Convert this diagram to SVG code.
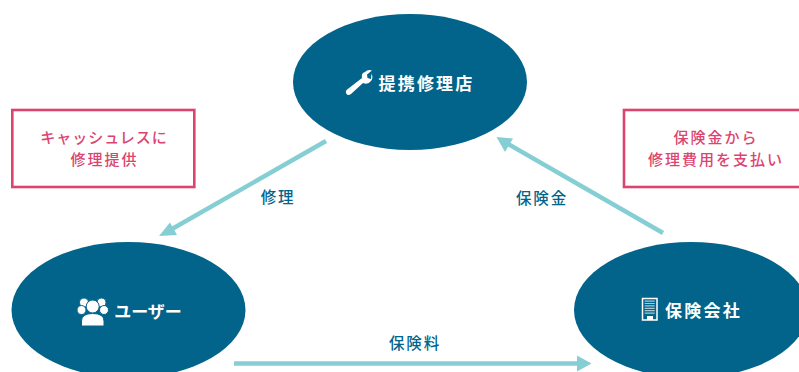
<svg xmlns="http://www.w3.org/2000/svg" width="799" height="372" viewBox="0 0 799 372">
<style>
text{font-family:"Noto Sans CJK JP","Noto Sans",sans-serif;text-anchor:middle;font-weight:500}
.n{fill:#02648a}
.t{fill:#fff;font-size:17px;letter-spacing:2.200px;font-weight:700}
.l{fill:#02648a;font-size:15.500px;letter-spacing:1.800px}
.c{fill:#db4470;font-size:15px;letter-spacing:2px}
.b{fill:#fff;stroke:#db4470;stroke-width:2.600}
.a{stroke:#85cfd4;stroke-width:4.500;fill:none}
.h{fill:#85cfd4}
</style>
<rect width="799" height="372" fill="#fff"/>
<g id="connectors">
<path class="a" d="M326 141L172 229"/><polygon class="h" points="159,236 170,222.500 177,235"/>
<path class="a" d="M663 233L508 144"/><polygon class="h" points="496.500,137 513,138.500 505,152"/>
<path class="a" d="M234 363.500H580"/><polygon class="h" points="591.500,363.500 577,355.500 577,371.500"/>
</g>
<g id="note-left"><rect class="b" x="12.300" y="110" width="182" height="77"/>
<text class="c" x="104" y="143" style="letter-spacing:1px">キャッシュレスに</text><text class="c" x="104.500" y="165">修理提供</text></g>
<g id="note-right"><rect class="b" x="624" y="110" width="190" height="77"/>
<text class="c" x="716" y="143">保険金から</text><text class="c" x="716" y="165">修理費用を支払い</text></g>
<g id="node-shop"><ellipse class="n" cx="410" cy="82" rx="117" ry="68"/>
<path fill="#fff" d="M346.500 90L362 78Q361 73 365 72Q368 69 372 70.500L367 74.500L367.500 78L371 79L371.500 73.500Q373.500 78 371 81Q368 85 363 83L351 94Q348 96 346.500 94Q345 92 346.500 90Z"/>
<text class="t" x="426.500" y="90">提携修理店</text></g>
<g id="node-user"><ellipse class="n" cx="128.500" cy="310" rx="117" ry="68"/>
<g fill="#fff" stroke="#02648a" stroke-width="1"><circle cx="84" cy="302.500" r="4.500"/><circle cx="101.500" cy="302.500" r="4.500"/><circle cx="81.500" cy="310" r="4.500"/><circle cx="104" cy="310" r="4.500"/><circle cx="92.700" cy="306.500" r="6.500"/><path d="M81.500 326V321Q81.500 313.500 92.700 313.500T104 321V326Z"/></g>
<text class="t" x="148" y="318" style="letter-spacing:0">ユーザー</text></g>
<g id="node-insurer"><ellipse class="n" cx="691" cy="310" rx="117" ry="68"/>
<path fill="none" stroke="#fff" stroke-width="1.500" d="M642.500 298.500H657V320H642.500Z"/>
<path fill="none" stroke="#fff" stroke-opacity="0.650" stroke-width="10" stroke-dasharray="1.200 1.200" d="M649.700 300.500V314"/>
<path fill="#fff" d="M647 320V316H653V320Z"/>
<text class="t" x="703.500" y="317">保険会社</text></g>
<g id="edge-labels">
<text class="l" x="278" y="203">修理</text>
<text class="l" x="542" y="204">保険金</text>
<text class="l" x="415" y="349">保険料</text>
</g>
</svg>
